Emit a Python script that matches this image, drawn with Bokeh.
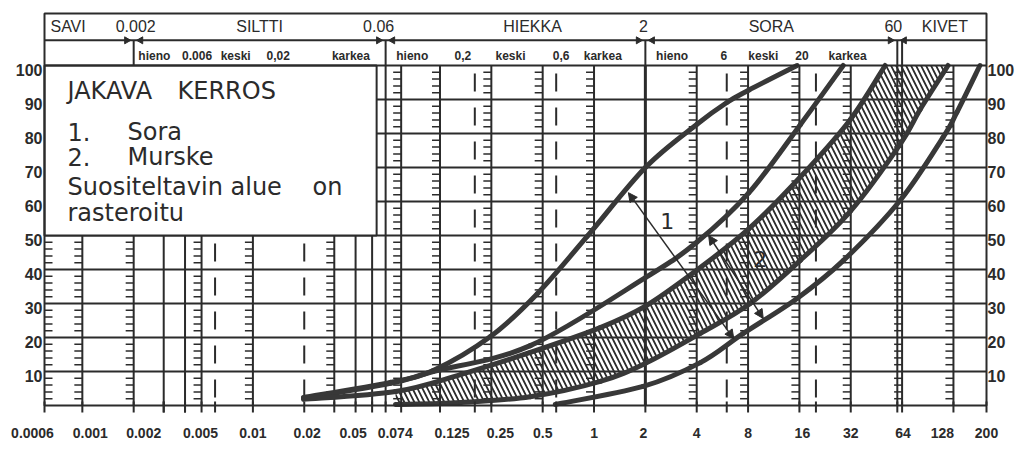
import math
from bokeh.plotting import figure
from bokeh.models import Range1d, Arrow, NormalHead
from bokeh.core.properties import value
from bokeh.embed import file_html
from bokeh.resources import INLINE

# ---------------- data ----------------
x_min, x_max = 0.0006, 200
bottom_ticks = [0.0006, 0.001, 0.002, 0.005, 0.01, 0.02, 0.05, 0.074, 0.125, 0.25,
                0.5, 1, 2, 4, 8, 16, 32, 64, 128, 200]
bottom_labels = ["0.0006", "0.001", "0.002", "0.005", "0.01", "0.02", "0.05", "0.074",
                 "0.125", "0.25", "0.5", "1", "2", "4", "8", "16", "32", "64", "128", "200"]
pct_ticks = [10, 20, 30, 40, 50, 60, 70, 80, 90, 100]

ticked_lines = [0.001, 0.002, 0.005, 0.01, 0.03, 0.074, 0.125, 0.25, 0.5, 1,
                4, 8, 16, 32, 64, 128]
plain_lines = [0.003, 0.004, 0.04, 0.05, 0.06, 60]
thick_lines = [2]
dashed_lines = [0.006, 0.02, 0.2, 0.6, 6, 20]

main_bounds = [0.002, 0.06, 2, 60]
main_bound_labels = ["0.002", "0.06", "2", "60"]
main_names = ["SAVI", "SILTTI", "HIEKKA", "SORA", "KIVET"]
sub_bounds = [[0.006, 0.02], [0.2, 0.6], [6, 20]]
sub_bound_labels = [["0.006", "0,02"], ["0,2", "0,6"], ["6", "20"]]
sub_names = ["hieno", "keski", "karkea"]

legend_title = ["JAKAVA", "KERROS"]
legend_items = [("1.", "Sora"), ("2.", "Murske")]
legend_note = [["Suositeltavin", "alue", "on"], ["rasteroitu"]]

# grading curves: grain size (mm) and passing percentage
curve_a_d = [0.0198, 0.064, 0.114, 0.247, 0.465, 0.914, 2.0, 4.03, 6.04, 8.1, 15.5]
curve_a_p = [2.4, 6.8, 10.3, 20.3, 32.9, 49.8, 70.0, 82.8, 89.2, 92.8, 100]
curve_b_d = [0.0198, 0.064, 0.114, 0.423, 2.0, 4.0, 8.1, 16.2, 28.9]
curve_b_p = [2.1, 6.5, 10.0, 17.6, 37.6, 48.0, 62.6, 82.6, 100]
curve_c_d = [0.0198, 0.0686, 0.165, 0.423, 1.088, 2.0, 4.0, 8.1, 16.2, 31.7, 50.9]
curve_c_p = [1.8, 4.1, 9.1, 15.6, 22.9, 29.2, 39.8, 52.0, 67.2, 84.0, 100]
curve_d_d = [0.0686, 0.165, 0.423, 1.088, 2.0, 4.2, 8.23, 16.2, 31.7, 62.3, 81.5, 119]
curve_d_p = [0.3, 0.9, 2.6, 7.1, 12.4, 21.2, 30.0, 42.7, 57.0, 76.8, 87.0, 100]
curve_e_d = [0.593, 1.94, 4.2, 7.5, 15.5, 28.9, 62.3, 111, 134, 183]
curve_e_p = [0.3, 5.6, 12.6, 21.2, 31.5, 42.6, 60.3, 78.8, 86.2, 100]

# zone arrows (from one bounding curve to the other) and their numbers
arrow1 = (1.59, 62.6, 6.6, 19.6)
arrow2 = (4.7, 50.0, 9.82, 25.6)
zone_labels = [("1", 2.69, 54.4), ("2", 9.42, 43.2)]

# ---------------- layout constants (styling only) ----------------
INK = "#2b2b2b"
CURVE = "#383838"
W, H = 1024, 451
PX_DEC = 942 / math.log10(x_max / x_min)   # pixels per decade
PX_PCT = 3.4                                 # pixels per percent
LEFT_PX, RIGHT_PX = 44, 38                   # canvas space outside the scale
TOP_PX, BOTTOM_PX = 405, 46                  # pixels above / below the 0 % line
Y_TOP = 115.3               # top of header (percent units)
Y_DIV = 107.4               # header row divider
Y_ROW1 = 111.5
Y_ROW2 = 102.9
LFONT = "24px"


def shift(x, px):
    return x * 10 ** (px / PX_DEC)


xr = Range1d(shift(x_min, -LEFT_PX), shift(x_max, RIGHT_PX))
yr = Range1d(-BOTTOM_PX / PX_PCT, TOP_PX / PX_PCT)

p = figure(x_axis_type="log", x_range=xr, y_range=yr, width=W, height=H,
           x_axis_location=None, y_axis_location=None, min_border=0,
           toolbar_location=None, output_backend="svg",
           background_fill_color="white", border_fill_color="white")
p.xgrid.visible = False
p.ygrid.visible = False
p.outline_line_color = None

# ---- horizontal grid lines ----
hl = pct_ticks[:-1]
p.segment(x0=[x_min] * len(hl), x1=[x_max] * len(hl), y0=hl, y1=hl,
          line_color=INK, line_width=2)

# ---- vertical grid lines ----
vl = ticked_lines + plain_lines
p.segment(x0=vl, x1=vl, y0=[0] * len(vl), y1=[100] * len(vl), line_color=INK, line_width=2)
p.segment(x0=thick_lines, x1=thick_lines, y0=[0] * len(thick_lines), y1=[100] * len(thick_lines),
          line_color=INK, line_width=3)
p.segment(x0=dashed_lines, x1=dashed_lines, y0=[0] * len(dashed_lines),
          y1=[100] * len(dashed_lines), line_color=INK, line_width=2,
          line_dash="18 16", line_dash_offset=26)

# small 2 % marks on the scale lines
small = [v for v in range(2, 100, 2) if v % 10]
tx0, tx1, ty = [], [], []
for x in ticked_lines:
    for v in small:
        tx0.append(shift(x, -8)); tx1.append(x); ty.append(v)
for v in small:
    tx0.append(x_min); tx1.append(shift(x_min, 8)); ty.append(v)
p.segment(x0=tx0, x1=tx1, y0=ty, y1=ty, line_color=INK, line_width=1.5)


# ---- smooth drawing of the read curve points (Catmull-Rom in log-x space) ----
def bez(d, pv):
    lx = [math.log10(v) for v in d]
    n = len(d)
    out = {k: [] for k in ("x0", "y0", "x1", "y1", "cx0", "cy0", "cx1", "cy1")}
    for i in range(n - 1):
        a, b = max(i - 1, 0), min(i + 2, n - 1)
        out["x0"].append(lx[i]); out["y0"].append(pv[i])
        out["x1"].append(lx[i + 1]); out["y1"].append(pv[i + 1])
        out["cx0"].append(lx[i] + (lx[i + 1] - lx[a]) / 6)
        out["cy0"].append(pv[i] + (pv[i + 1] - pv[a]) / 6)
        out["cx1"].append(lx[i + 1] - (lx[b] - lx[i]) / 6)
        out["cy1"].append(pv[i + 1] - (pv[b] - pv[i]) / 6)
    return out


def bez_outline(seg, steps=10):
    xs, ys = [], []
    for i in range(len(seg["x0"])):
        for s in range(steps + (1 if i == len(seg["x0"]) - 1 else 0)):
            t = s / steps
            u = 1 - t
            lx = (u ** 3 * seg["x0"][i] + 3 * u * u * t * seg["cx0"][i] +
                  3 * u * t * t * seg["cx1"][i] + t ** 3 * seg["x1"][i])
            yy = (u ** 3 * seg["y0"][i] + 3 * u * u * t * seg["cy0"][i] +
                  3 * u * t * t * seg["cy1"][i] + t ** 3 * seg["y1"][i])
            xs.append(10 ** lx); ys.append(yy)
    return xs, ys


curves = [(curve_a_d, curve_a_p), (curve_b_d, curve_b_p), (curve_c_d, curve_c_p),
          (curve_d_d, curve_d_p), (curve_e_d, curve_e_p)]
segs = [bez(cd, cp) for cd, cp in curves]

# ---- recommended (hatched) area between curves C and D ----
cx, cy = bez_outline(bez(curve_c_d[1:], curve_c_p[1:]))
dx, dy = bez_outline(segs[3])
p.patch(cx + dx[::-1], cy + dy[::-1], fill_color=None, line_color=None, hatch_pattern="\\",
        hatch_color=INK, hatch_scale=10, hatch_weight=1.8)

# ---- grading curves ----
for s in segs:
    p.bezier(x0=[10 ** v for v in s["x0"]], y0=s["y0"], x1=[10 ** v for v in s["x1"]], y1=s["y1"],
             cx0=[10 ** v for v in s["cx0"]], cy0=s["cy0"], cx1=[10 ** v for v in s["cx1"]],
             cy1=s["cy1"], line_color=CURVE, line_width=5, line_cap="round")

# ---- zone arrows ----
for (xs, ys, xe, ye) in (arrow1, arrow2):
    p.add_layout(Arrow(x_start=xs, y_start=ys, x_end=xe, y_end=ye, line_color=INK, line_width=1.5,
                       start=NormalHead(size=9, fill_color=INK, line_color=INK),
                       end=NormalHead(size=9, fill_color=INK, line_color=INK)))
p.text(x=[z[1] for z in zone_labels], y=[z[2] for z in zone_labels],
       text=[z[0] for z in zone_labels], text_align="center", text_baseline="middle",
       text_font=value("DejaVu Sans"), text_font_size="22px", text_color=INK)

# ---- legend box ----
p.quad(left=[x_min], right=[shift(0.06, -9)], bottom=[50], top=[100],
       fill_color="white", line_color=INK, line_width=2)
lt = dict(text_baseline="middle", text_font=value("DejaVu Sans"), text_font_size=LFONT,
          text_color=INK)
p.text(x=[shift(x_min, 23), shift(x_min, 133)], y=[92.6, 92.6], text=legend_title, **lt)
p.text(x=[shift(x_min, 23)] * 2, y=[80.4, 73.0], text=[it[0] for it in legend_items], **lt)
p.text(x=[shift(x_min, 83)] * 2, y=[80.4, 73.0], text=[it[1] for it in legend_items], **lt)
p.text(x=[shift(x_min, 23), shift(x_min, 186), shift(x_min, 268)], y=[64.2] * 3,
       text=legend_note[0], **lt)
p.text(x=[shift(x_min, 23)], y=[56.5], text=legend_note[1], **lt)

# ---- header (soil classes) ----
p.segment(x0=[x_min, x_min], x1=[x_max, x_max], y0=[Y_DIV, 100], y1=[Y_DIV, 100],
          line_color=INK, line_width=2)
sep = main_bounds + [64]
p.segment(x0=sep, x1=sep, y0=[100] * len(sep), y1=[Y_DIV] * len(sep), line_color=INK, line_width=2)

edges = [x_min] + main_bounds + [x_max]
name_x = [math.sqrt(edges[i] * edges[i + 1]) for i in range(len(main_names))]
p.text(x=name_x, y=[Y_ROW1] * len(main_names), text=main_names, x_offset=[-21, 0, 17, 0, 3],
       text_align="center", text_baseline="middle", text_font=value("Liberation Sans"),
       text_font_size="16px", text_color=INK)
p.text(x=main_bounds, y=[Y_ROW1] * len(main_bounds), text=main_bound_labels,
       x_offset=[2, -7, -2, -4], text_align="center", text_baseline="middle",
       text_font=value("Liberation Sans"), text_font_size="16px", text_color=INK)

# boundary markers on the divider
tri_x, tri_a = [], []
for b in main_bounds:
    tri_x += [shift(b, -7), shift(b, 7)]
    tri_a += [-math.pi / 2, math.pi / 2]
p.scatter(x=tri_x, y=[Y_DIV] * len(tri_x), marker="triangle", angle=tri_a, size=7,
          fill_color=INK, line_color=INK)

# sub-class labels
sx, st, so = [], [], []
sub_offsets = [[-20, -18, -24, -26, 6], [-18, -12, -5, 5, 2], [-14, -3, -8, -14, -9]]
for k, (lo, hi) in enumerate([(0.002, 0.06), (0.06, 2), (2, 60)]):
    s1, s2 = sub_bounds[k]
    pos = [math.sqrt(lo * s1), s1, math.sqrt(s1 * s2), s2, math.sqrt(s2 * hi)]
    txt = [sub_names[0], sub_bound_labels[k][0], sub_names[1], sub_bound_labels[k][1], sub_names[2]]
    sx += pos; st += txt; so += sub_offsets[k]
p.text(x=sx, y=[Y_ROW2] * len(sx), text=st, x_offset=so, text_align="center",
       text_baseline="middle", text_font=value("Liberation Sans"), text_font_style="bold",
       text_font_size="12px", text_color=INK)

# ---- outer border ----
p.quad(left=[x_min], right=[x_max], bottom=[0], top=[Y_TOP], fill_color=None,
       line_color=INK, line_width=2)

# ---- bottom scale: ticks and labels ----
minor = [v for v in plain_lines + dashed_lines + [0.003, 0.004, 0.03] if v not in bottom_ticks]
tk = bottom_ticks + minor
p.segment(x0=tk, x1=tk, y0=[-7 / PX_PCT] * len(tk), y1=[4 / PX_PCT] * len(tk),
          line_color=INK, line_width=2)
label_dx = [-12, 8, 10, -1, 0, 3, -19, -6, 12, 9, 0, 0, -2, 0, 0, 3, 0, 1, -11, 0]
p.text(x=bottom_ticks, y=[-27 / PX_PCT] * len(bottom_ticks), text=bottom_labels,
       x_offset=label_dx, text_align="center", text_baseline="middle",
       text_font=value("Liberation Sans"), text_font_style="bold", text_font_size="14px",
       text_color=INK)

# ---- percentage scales left and right ----
pl = [str(v) for v in pct_ticks]
p.text(x=[x_min] * len(pct_ticks), y=pct_ticks, text=pl, x_offset=-2, y_offset=4,
       text_align="right", text_baseline="middle", text_font=value("Liberation Sans"),
       text_font_style="bold", text_font_size="16px", text_color=INK)
p.text(x=[x_max] * len(pct_ticks), y=pct_ticks, text=pl, x_offset=1, y_offset=4,
       text_align="left", text_baseline="middle", text_font=value("Liberation Sans"),
       text_font_style="bold", text_font_size="16px", text_color=INK)

open("out.html", "w").write(file_html(p, INLINE))
